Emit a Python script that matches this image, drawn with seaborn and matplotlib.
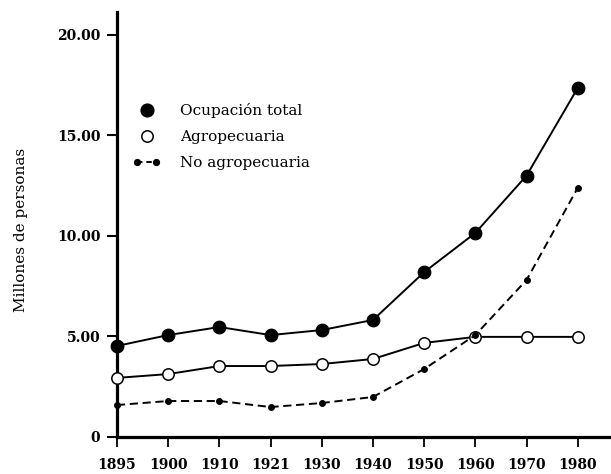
import matplotlib
matplotlib.use("Agg")
import matplotlib.pyplot as plt
import seaborn as sns
import pandas as pd
from matplotlib.lines import Line2D
from matplotlib.legend_handler import HandlerLine2D

years = ["1895", "1900", "1910", "1921", "1930", "1940", "1950", "1960", "1970", "1980"]
ocupacion_total = [4.53, 5.07, 5.47, 5.07, 5.32, 5.82, 8.20, 10.15, 13.00, 17.36]
agropecuaria = [2.94, 3.13, 3.53, 3.53, 3.63, 3.88, 4.68, 4.98, 4.98, 4.98]
no_agropecuaria = [1.59, 1.79, 1.79, 1.49, 1.69, 1.99, 3.38, 5.07, 7.81, 12.39]
labels = ["Ocupación total", "Agropecuaria", "No agropecuaria"]
ytick_vals = [0, 5, 10, 15, 20]
ytick_labels = ["0", "5.00", "10.00", "15.00", "20.00"]

df = pd.DataFrame({
    "pos": list(range(len(years))),
    "total": ocupacion_total,
    "agro": agropecuaria,
    "noagro": no_agropecuaria,
})

sns.set_style("ticks")
plt.rcParams["font.family"] = ["DejaVu Serif"]
plt.rcParams["text.color"] = "black"

fig = plt.figure(figsize=(6.11, 4.74), dpi=100)
ax = fig.add_axes([117 / 611, 37 / 474, 494 / 611, 425 / 474])

sns.lineplot(data=df, x="pos", y="agro", ax=ax, color="black", lw=1.4,
             marker="o", markersize=8.2, markerfacecolor="white",
             markeredgecolor="black", markeredgewidth=1.1, clip_on=False, zorder=3)
sns.lineplot(data=df, x="pos", y="noagro", ax=ax, color="black", lw=1.4,
             dashes=(4.2, 2.4), marker="o", markersize=4.2, markerfacecolor="black",
             markeredgecolor="black", clip_on=False, zorder=4)
sns.lineplot(data=df, x="pos", y="total", ax=ax, color="black", lw=1.4,
             marker="o", markersize=9.2, markerfacecolor="black",
             markeredgecolor="black", clip_on=False, zorder=5)

ax.set_xlim(0, 9.65)
ax.set_ylim(0, 21.14)
ax.set_xticks(range(len(years)))
ax.set_xticklabels(years, fontsize=10, fontweight="bold", color="black")
ax.set_yticks(ytick_vals)
ax.set_yticklabels(ytick_labels, fontsize=10, fontweight="bold", color="black")
ax.set_xlabel("")
ax.set_ylabel("")
fig.text(21 / 611, 1 - 230 / 474, "Millones de personas", rotation=90,
         ha="center", va="center", fontsize=11, color="black")

for s in ["top", "right"]:
    ax.spines[s].set_visible(False)
for s in ["left", "bottom"]:
    ax.spines[s].set_linewidth(2.3)
    ax.spines[s].set_color("black")
ax.tick_params(axis="y", length=7, width=1.5, pad=5, colors="black")
ax.tick_params(axis="x", length=7, width=1.3, pad=8, colors="black")

h1 = Line2D([], [], color="black", ls="none", marker="o", markersize=9.2,
            markerfacecolor="black")
h2 = Line2D([], [], color="black", ls="none", marker="o", markersize=8.2,
            markerfacecolor="white", markeredgewidth=1.1)
h3 = Line2D([], [], color="black", ls=(0, (2.8, 2)), lw=1.4, marker="o",
            markersize=4.2, markerfacecolor="black")
leg = ax.legend([h1, h2, h3], labels, loc="upper left",
                bbox_to_anchor=(0.032, 0.785), frameon=False, fontsize=11,
                borderpad=0, borderaxespad=0, handlelength=1.8, handletextpad=1.3,
                labelspacing=0.78,
                handler_map={h3: HandlerLine2D(numpoints=2)})
for t in leg.get_texts():
    t.set_color("black")

fig.savefig("out.png", dpi=100)
